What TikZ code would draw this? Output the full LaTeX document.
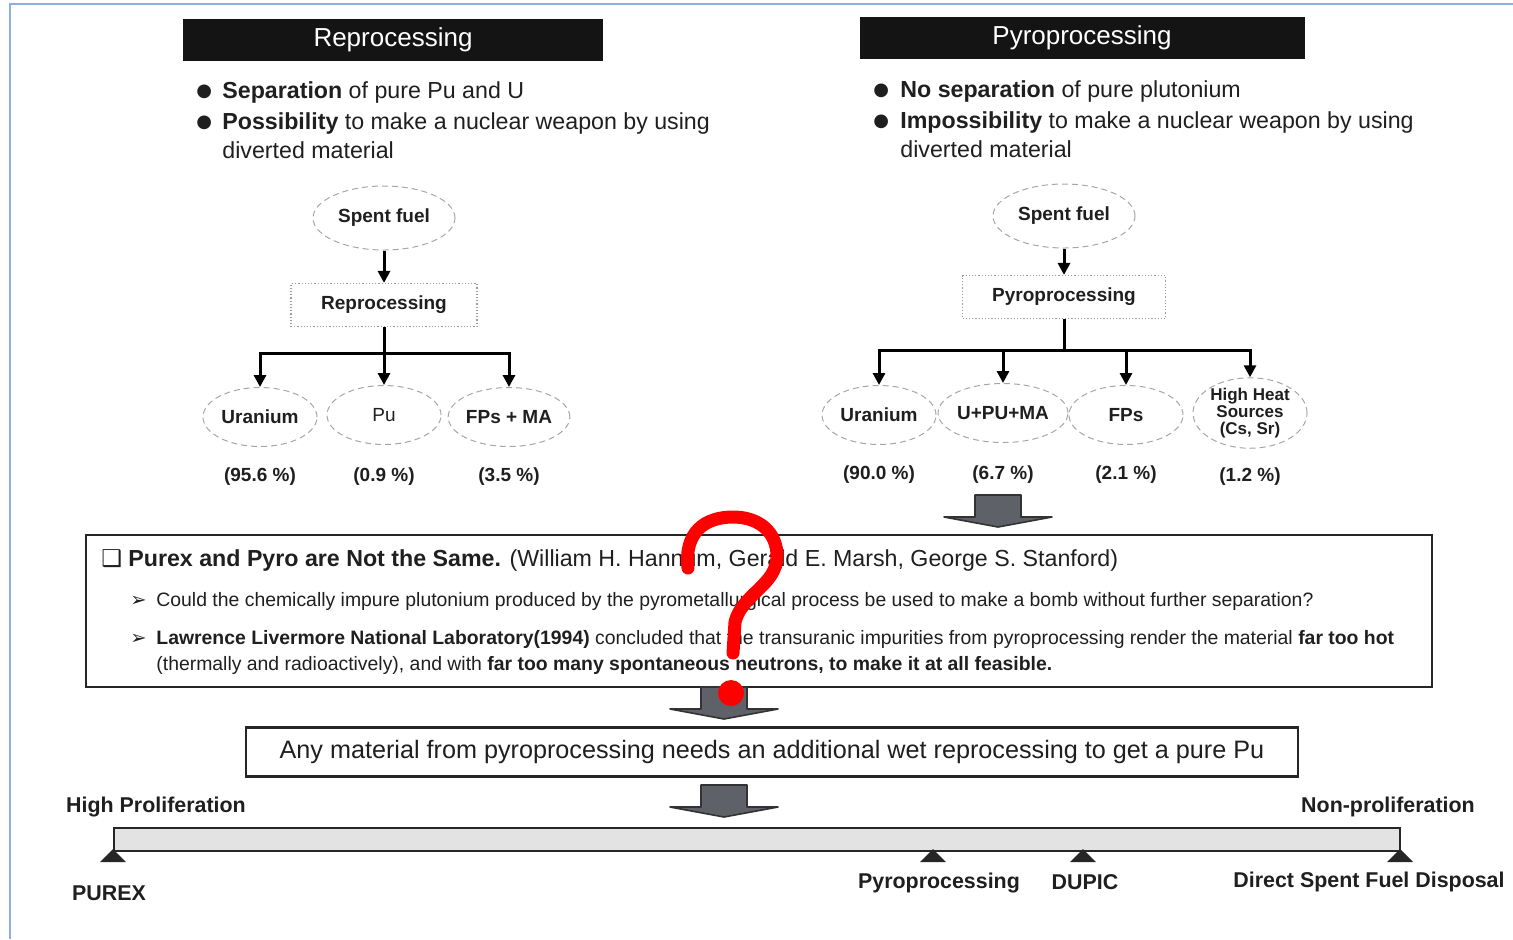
\documentclass[tikz,border=0pt]{standalone}
\usepackage{fontspec}
\setmainfont{Liberation Sans}
\newfontfamily\symf{DejaVu Sans}
\usetikzlibrary{arrows.meta,shapes.geometric}
\definecolor{frameblue}{HTML}{8EAEE0}
\definecolor{qred}{HTML}{FF0000}
\definecolor{arrgray}{HTML}{5E6168}
\newcommand{\fsz}[2]{\fontsize{#1}{#2}\selectfont}
\newcommand{\blob}{\raisebox{0.8pt}{\symf\fsz{9}{9}●}}

\begin{document}
\begin{tikzpicture}[x=0.5pt, y=-0.5pt, font=\fsz{11.6}{14.5},
  every node/.style={text=black!88},
  hdr/.style={fill=black!92, text=white, minimum width=210pt, minimum height=21pt, inner sep=0pt, font=\fsz{13}{15}},
  fuel/.style={ellipse, draw=gray!70, densely dashed, line width=0.5pt, minimum width=71pt, minimum height=32pt, inner sep=0pt, font=\fsz{9.5}{11}\bfseries},
  prod/.style={ellipse, draw=gray!70, densely dashed, line width=0.5pt, minimum width=57pt, minimum height=29.5pt, inner sep=0pt, align=center, font=\fsz{9.5}{11}\bfseries},
  proc/.style={draw=gray!80, densely dotted, line width=0.6pt, minimum height=21.5pt, inner sep=0pt, font=\fsz{9.5}{11}\bfseries},
  pct/.style={font=\fsz{9.5}{11}\bfseries},
  tree/.style={line width=1.5pt},
  arr/.style={tree, -{Triangle[length=6pt, width=6pt]}},
  txt/.style={anchor=base west, inner sep=0pt},
  fat/.style={fill=arrgray, draw=black!80, line width=0.8pt, line join=round},
  fatarrow/.pic={\draw[fat] (-23,0) -- (23,0) -- (23,22) -- (54,22) -- (0,32) -- (-54,22) -- (-23,22) -- cycle;},
  lbl/.style={font=\fsz{10.7}{12}\bfseries, inner sep=0pt}]
\useasboundingbox (0,0) rectangle (1513,939);
\draw[frameblue, line width=1pt] (10,939) -- (10,4) -- (1513,4);
% left: wet reprocessing
\node[hdr] (lhd) at (393,40) {Reprocessing};
\node[txt] (lbul) at (196,98) {\begin{tabular}[t]{@{}l@{}l@{}}
  \makebox[13pt][l]{\blob} & \textbf{Separation} of pure Pu and U\\[1pt]
  \makebox[13pt][l]{\blob} & \textbf{Possibility} to make a nuclear weapon by using\\
  & diverted material\end{tabular}};
\node[fuel] (lsf) at (384,218) {Spent fuel};
\node[proc, minimum width=93pt] (lrp) at (384,305) {Reprocessing};
\node[prod] (lu) at (260,417) {Uranium};
\node[prod, font=\fsz{9.5}{11}] (lpu) at (384,415) {Pu};
\node[prod] (lfm) at (509,417) {FPs + MA};
\node[pct] (lupc) at (260,477) {(95.6 \%)};
\node[pct] (lpupc) at (384,477) {(0.9 \%)};
\node[pct] (lfmpc) at (509,477) {(3.5 \%)};
\coordinate (lj) at (384,353);
\draw[arr] (lsf) -- (lrp);
\draw[tree] (lrp) -- (lj);
\draw[arr] (lj) -| (lu);
\draw[arr] (lj) -- (lpu);
\draw[arr] (lj) -| (lfm);
% right: pyroprocessing
\node[hdr, minimum width=222.5pt] (rhd) at (1082,38) {Pyroprocessing};
\node[txt] (rbul) at (873,97) {\begin{tabular}[t]{@{}l@{}l@{}}
  \makebox[13.5pt][l]{\blob} & \textbf{No separation} of pure plutonium\\[1pt]
  \makebox[13.5pt][l]{\blob} & \textbf{Impossibility} to make a nuclear weapon by using\\
  & diverted material\end{tabular}};
\node[fuel] (rsf) at (1064,216) {Spent fuel};
\node[proc, minimum width=101.5pt] (rpp) at (1064,297) {Pyroprocessing};
\node[prod] (ru) at (879,415) {Uranium};
\node[prod] (rupm) at (1003,413) {U+PU+MA};
\node[prod] (rfp) at (1126,415) {FPs};
\node[prod, font=\fsz{8.5}{8.5}\bfseries] (rhh) at (1250,413) {High Heat\\Sources\\(Cs, Sr)};
\node[pct] (rupc) at (879,475) {(90.0 \%)};
\node[pct] (rupmpc) at (1003,475) {(6.7 \%)};
\node[pct] (rfppc) at (1126,475) {(2.1 \%)};
\node[pct] (rhhpc) at (1250,477) {(1.2 \%)};
\coordinate (rj) at (1064,350);
\draw[arr] (rsf) -- (rpp);
\draw[tree] (rpp) -- (rj);
\draw[arr] (rj) -| (ru);
\draw[arr] (rj) -| (rupm);
\draw[arr] (rj) -| (rfp);
\draw[arr] (rj) -| (rhh);
\pic at (998,495) {fatarrow};
% comparison note
\node[draw=black!85, line width=1pt, minimum width=673pt, minimum height=76pt, inner sep=0pt] (note) at (759,611) {};
\node[txt] (ttl) at (101,566) {\makebox[13.5pt][l]{\symf ❑}\textbf{Purex and Pyro are Not the Same.} (William H. Hannum, Gerald E. Marsh, George S. Stanford)};
\node[txt, font=\fsz{9.7}{11}] (qa) at (130,606) {\makebox[13pt][l]{\symf ➢}Could the chemically impure plutonium produced by the pyrometallurgical process be used to make a bomb without further separation?};
\node[txt, font=\fsz{9.7}{11}] (qb) at (130,644) {\makebox[13pt][l]{\symf ➢}\textbf{Lawrence Livermore National Laboratory(1994)} concluded that the transuranic impurities from pyroprocessing render the material \textbf{far too hot}};
\node[txt, font=\fsz{9.7}{11}] (qc) at (156,670) {(thermally and radioactively), and with \textbf{far too many spontaneous neutrons, to make it at all feasible.}};
\pic at (724,687) {fatarrow};
\node[draw=black!85, line width=1.1pt, minimum width=526pt, minimum height=24.5pt, inner sep=0pt, font=\fsz{12.6}{14}] (need) at (772,752) {Any material from pyroprocessing needs an additional wet reprocessing to get a pure Pu};
\pic at (724,785) {fatarrow};
% proliferation scale
\node[lbl] (hip) at (156,807) {High Proliferation};
\node[lbl] (nonp) at (1388,807) {Non-proliferation};
\node[draw=black!85, fill=gray!22, line width=1pt, minimum width=643pt, minimum height=11.5pt, inner sep=0pt] (bar) at (757,839.5) {};
\foreach \p in {113,933,1083,1400}
  \fill[black!85] ({\p-13},862) -- (\p,849) -- ({\p+13},862) -- cycle;
\node[lbl] (purex) at (109,893) {PUREX};
\node[lbl] (pyro) at (939,883) {Pyroprocessing};
\node[lbl] (dupic) at (1085,882) {DUPIC};
\node[lbl] (dsfd) at (1369,882) {Direct Spent Fuel Disposal};
% red question mark on top
\draw[qred, line width=6.5pt, line cap=round] (688,568) .. controls (684,532) and (705,517) .. (733,517) .. controls (760,517) and (777,533) .. (777,556) .. controls (777,585) and (742,594) .. (735,622) -- (733,653);
\fill[qred] (731,693) circle (6.5pt);
\end{tikzpicture}
\end{document}
